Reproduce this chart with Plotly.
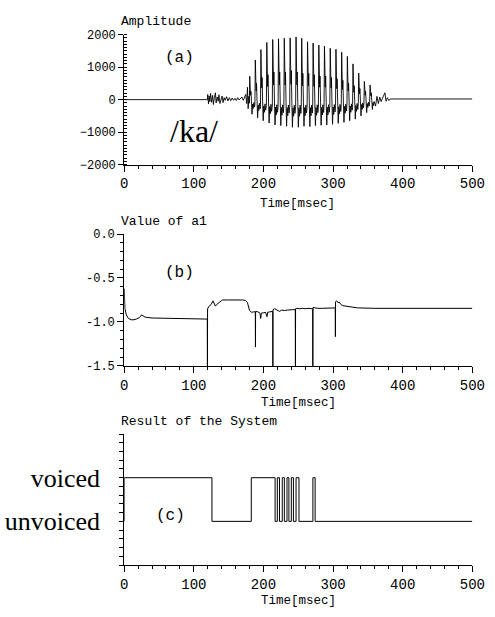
import plotly.graph_objects as go

W, H = 495, 617

# ---------------- data ----------------
# (a) speech waveform /ka/ : silence, burst noise, voiced pulses, tail
silence1_t = [0, 119.3]
silence1_v = [0, 0]
noise_t = [119.5, 120, 121, 122, 123, 124, 125.5, 127, 128, 129.5, 131, 132, 133.5, 135, 136,
           137.5, 139, 140.5, 142, 143.5, 145, 147, 149, 151, 153, 155, 157, 159, 161, 163,
           165, 167, 169, 171, 173, 174.5, 176, 177, 178, 179]
noise_v = [0, 160, -130, 110, -60, 190, -80, 130, -150, 60, 210, -100, 80, -50, 150,
           -120, 40, 110, -90, 60, -20, 90, -40, 60, -30, 50, -20, 40, -30, 60,
           -10, 30, 80, -20, 60, 160, -120, 380, -280, 100]
pulse_t = [180.0, 188.0, 196.0, 204.5, 213.0, 221.3, 229.6, 238.0, 246.5, 254.6, 263.0,
           271.0, 279.2, 287.3, 295.6, 303.8, 312.0, 320.2, 328.3, 336.5, 344.6, 352.8]
pulse_peak = [720, 1220, 1540, 1760, 1850, 1870, 1890, 1900, 1930, 1890, 1780,
              1740, 1680, 1650, 1580, 1550, 1460, 1330, 1100, 820, 560, 450]
pulse_second = [300, 600, 800, 900, 1000, 1000, 1000, 1050, 1000, 950, 950,
                900, 850, 850, 800, 750, 700, 600, 500, 400, 300, 250]
pulse_trough = [450, 560, 650, 720, 780, 800, 820, 850, 850, 820, 830,
                800, 790, 780, 760, 730, 700, 650, 600, 500, 400, 300]
tail_t = [361, 363, 365, 367, 369, 371, 373, 374.5, 376, 378, 380, 381.5, 382, 500]
tail_v = [-200, 100, -120, 80, -60, 50, 120, 210, -50, 60, -30, 0, 20, 20]

# (b) value of a1
b_t = [0, 1, 3, 6, 10, 14, 18, 22, 25, 27, 30, 40, 60, 80, 100, 119.3, 119.5, 119.7,
       122, 125, 127.5, 129, 131, 133, 135, 138, 141, 150, 160, 170, 174, 177, 180, 183,
       186, 188.3, 188.5, 188.7, 192, 195, 196, 197, 200, 203, 205, 206, 209, 212, 213.3,
       213.5, 213.7, 216, 219, 222, 223, 226, 230, 234, 238, 242, 245.7, 245.9, 246.1,
       248, 252, 256, 260, 264, 268, 270.7, 270.9, 271.1, 274, 278, 285, 292, 300, 303.1,
       303.3, 303.5, 305, 307, 309, 311, 314, 318, 325, 335, 360, 500]
b_v = [-0.62, -0.85, -0.92, -0.96, -0.975, -0.975, -0.965, -0.95, -0.92, -0.93, -0.945,
       -0.955, -0.96, -0.962, -0.965, -0.967, -1.5, -0.85,
       -0.82, -0.80, -0.76, -0.78, -0.82, -0.80, -0.79, -0.77, -0.75, -0.75, -0.748, -0.75,
       -0.755, -0.78, -0.87, -0.89,
       -0.885, -0.885, -1.285, -0.88, -0.885, -0.90, -0.96, -0.90, -0.895, -0.89, -0.94,
       -0.89, -0.885, -0.88, -0.88,
       -1.5, -0.86, -0.85, -0.86, -0.87, -0.88, -0.865, -0.87, -0.865, -0.86, -0.86, -0.86,
       -1.5, -0.85,
       -0.845, -0.85, -0.845, -0.85, -0.845, -0.85, -0.85, -1.5, -0.835, -0.84, -0.845,
       -0.845, -0.84, -0.84, -0.84,
       -1.167, -0.77, -0.76, -0.78, -0.775, -0.80, -0.815, -0.82, -0.83, -0.84, -0.845, -0.845]

# (c) result of the system: 1 = voiced, 0 = unvoiced (state changes)
c_t = [0, 0, 126, 182.5, 216.7, 219.9, 223, 227, 230, 233.8, 236.5, 240, 243, 246.8, 251,
       271, 274.2, 500]
c_v = [0, 1, 0, 1, 0, 1, 0, 1, 0, 1, 0, 1, 0, 1, 0, 1, 0, 0]

x_ticks = [0, 100, 200, 300, 400, 500]
a_ticks = [-2000, -1000, 0, 1000, 2000]
b_ticks = [-1.5, -1.0, -0.5, 0.0]
b_ticktext = ["-1.5", "-1.0", "-0.5", "0.0"]
c_ticks = [0, 1]
c_ticktext = ["unvoiced", "voiced"]

# build waveform polyline from the read pulse features
wave_t = list(silence1_t) + list(noise_t)
wave_v = list(silence1_v) + list(noise_v)
for t, pk, sc, tr in zip(pulse_t, pulse_peak, pulse_second, pulse_trough):
    wave_t += [t - 0.3, t + 0.3, t + 1.0, t + 1.5, t + 2.0, t + 2.8, t + 3.6, t + 4.4,
               t + 5.3, t + 6.2, t + 7.2]
    wave_v += [-0.25 * tr, pk, sc, 0.45 * sc, 0.85 * sc, -0.1 * tr, -tr, -0.3 * tr,
               -0.6 * tr, -0.2 * tr, -0.5 * tr]
wave_t += tail_t
wave_v += tail_v

# ---------------- figure ----------------
MONO = "Liberation Mono"
SERIF = "Liberation Serif"

def px_x(p):
    return p / W

def px_y(p):
    return 1 - p / H

xdom = [px_x(124.5), px_x(485)]

fig = go.Figure()
fig.add_trace(go.Scatter(x=wave_t, y=wave_v, mode="lines",
                         line=dict(color="black", width=0.9), xaxis="x", yaxis="y"))
fig.add_trace(go.Scatter(x=b_t, y=b_v, mode="lines",
                         line=dict(color="black", width=1), xaxis="x2", yaxis="y2"))
fig.add_trace(go.Scatter(x=c_t, y=c_v, mode="lines", line_shape="hv",
                         line=dict(color="black", width=1), xaxis="x3", yaxis="y3"))

def xaxis_cfg(anchor):
    return dict(domain=xdom, anchor=anchor, range=[0, 500], showgrid=False, zeroline=False,
                showline=True, linecolor="black", linewidth=1,
                tickmode="array", tickvals=x_ticks, ticks="outside", ticklen=6,
                tickcolor="black", tickwidth=1, ticklabeloverflow="allow",
                tickfont=dict(family=MONO, size=14, color="black"),
                minor=dict(dtick=20, ticks="outside", ticklen=3, tickcolor="black"))

ycommon = dict(showgrid=False, zeroline=False, showline=True, linecolor="black",
               linewidth=1, tickcolor="black", tickwidth=1)

fig.update_layout(
    width=W, height=H, margin=dict(l=0, r=0, t=0, b=0), autosize=False,
    paper_bgcolor="white", plot_bgcolor="white", showlegend=False,
    xaxis=xaxis_cfg("y"),
    xaxis2=xaxis_cfg("y2"),
    xaxis3=xaxis_cfg("y3"),
    yaxis=dict(domain=[px_y(162.3), px_y(29.3)], anchor="x", range=[-2000, 2000],
               tickmode="array", tickvals=a_ticks, ticks="outside", ticklen=5,
               tickfont=dict(family=MONO, size=12, color="black"),
               minor=dict(dtick=100, ticks="inside", ticklen=3, tickcolor="black"),
               **ycommon),
    yaxis2=dict(domain=[px_y(368.3), px_y(233.3)], anchor="x2", range=[-1.5, 0],
                tickmode="array", tickvals=b_ticks, ticktext=b_ticktext,
                ticks="outside", ticklen=6,
                tickfont=dict(family=MONO, size=12, color="black"),
                minor=dict(dtick=0.1, ticks="outside", ticklen=3, tickcolor="black"),
                **ycommon),
    yaxis3=dict(domain=[px_y(572), px_y(438)], anchor="x3", range=[-1, 2],
                tickmode="array", tickvals=c_ticks, ticktext=c_ticktext,
                ticks="outside", ticklen=4, ticklabelstandoff=14,
                tickfont=dict(family=SERIF, size=26, color="black"),
                minor=dict(dtick=0.2, tick0=0, ticks="outside", ticklen=4, tickcolor="black"),
                **ycommon),
)

def note(text, x, y, size=13, family=MONO, xanchor="center"):
    fig.add_annotation(text=text, x=px_x(x), y=px_y(y), xref="paper", yref="paper",
                       showarrow=False, xanchor=xanchor, yanchor="middle",
                       font=dict(family=family, size=size, color="black"))

note("Amplitude", 119, 16, xanchor="left")
note("(a)", 182, 53, size=16)
note("/ka/", 197, 128, size=32, family=SERIF)
note("Time[msec]", 304, 203, size=12.5)
note("Value of a1", 119, 220, xanchor="left")
note("(b)", 182, 273, size=16)
note("Time[msec]", 305, 406, size=12.5)
note("Result of the System", 119, 425, xanchor="left")
note("(c)", 172, 522, size=16)
note("Time[msec]", 305, 609, size=12.5)

fig.write_html(
    "out.html",
    config={"displayModeBar": False, "responsive": False},
    post_script=("var s=document.documentElement.style;s.margin='0';s.padding='0';"
                 "s.overflow='hidden';var b=document.body.style;b.margin='0';"
                 "b.padding='0';b.overflow='hidden';"),
)
